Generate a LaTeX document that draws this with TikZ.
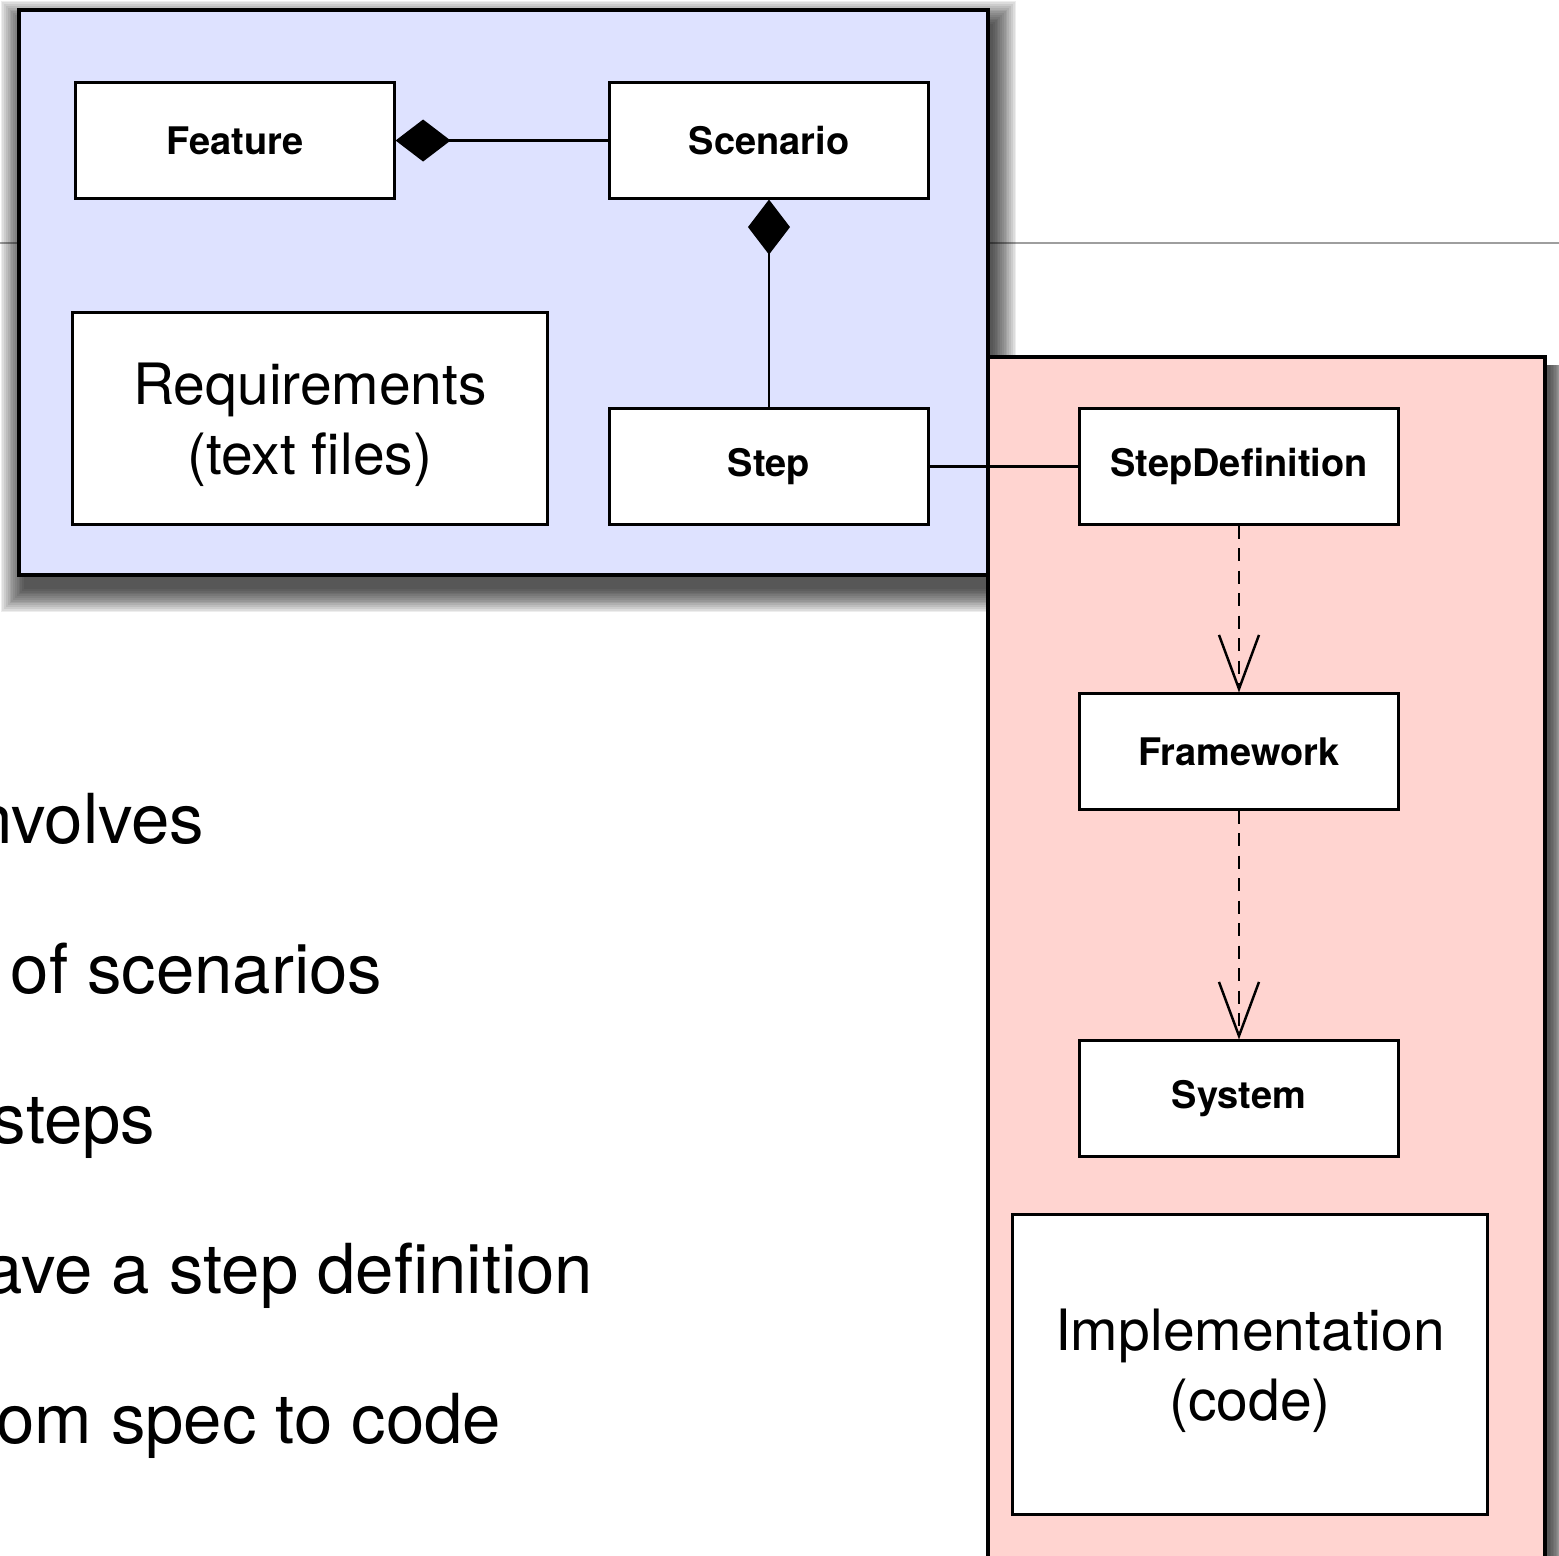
\documentclass[tikz,border=0pt]{standalone}
\usepackage{fontspec}
\setmainfont{TeX Gyre Heros}
\usetikzlibrary{arrows.meta}
\definecolor{specblue}{RGB}{222,226,255}
\definecolor{codepink}{RGB}{255,212,208}
\definecolor{rulegray}{RGB}{158,158,158}
\begin{document}
\begin{tikzpicture}[x=0.01cm,y=-0.01cm,
  panel/.style={line width=1.1pt, draw=black},
  cls/.style={draw=black, fill=white, line width=0.85pt, inner sep=0pt,
    minimum width=3.18cm, minimum height=1.15cm,
    font=\fontsize{10.8}{13}\selectfont\bfseries},
  bigbox/.style={draw=black, fill=white, line width=0.85pt, inner sep=0pt,
    minimum width=4.74cm, align=center,
    font=\fontsize{16.2}{19.9}\selectfont},
  conn/.style={draw=black, line width=0.7pt, line join=miter},
  dep/.style={conn, dash pattern=on 3.8pt off 2.6pt,
    -{Straight Barb[length=0.54cm,width=0.40cm,line width=0.7pt]}},
  comp/.style={conn, {Diamond[length=0.55cm,width=0.42cm]}-},
  bullet/.style={anchor=base east, inner sep=0pt, text=black,
    font=\fontsize{19.6}{23}\selectfont},
  softshade/.style={black, opacity=0.07}]
\useasboundingbox (0,0) rectangle (1559,1556);
\clip (0,0) rectangle (1559,1556);
\fill[white] (0,0) rectangle (1559,1556);

% header rule of the slide
\draw[rulegray, line width=0.6pt] (0,243) -- (1559,243);

% bullet text running under the panels
\node[bullet] (b1) at (205,843) {nvolves};
\node[bullet] (b2) at (383,993) {of scenarios};
\node[bullet] (b3) at (156,1143) {steps};
\node[bullet] (b4) at (594,1293) {ave a step definition};
\node[bullet] (b5) at (502,1443) {om spec to code};

% soft drop shadows: stacked translucent rectangles
\foreach \k in {0,...,13}{
  \fill[softshade] (24-\k*1.8, 24-\k*1.8) rectangle (993+\k*1.8, 589+\k*1.8);
}
\foreach \k in {0,...,13}{
  \fill[softshade] (1000, 365) rectangle (1550+\k*1.4, 1640);
}

% implementation panel
\path[fill=codepink, panel] (988,357) rectangle (1545,1620);
% specification panel
\path[fill=specblue, panel] (19,10) rectangle (988,575);

% classes
\node[cls] (feature) at (235,140.5) {Feature};
\node[cls] (scenario) at (769,140.5) {Scenario};
\node[cls] (step) at (769,466.5) {Step};
\node[bigbox, minimum height=2.11cm] (req) at (310,418.5)
  {\rule{0pt}{15.4pt}Requirements\\(text files)};
\node[cls] (stepdef) at (1239,466.5) {StepDefinition};
\node[cls] (framework) at (1239,751.5) {Framework};
\node[cls] (system) at (1239,1098.5) {System};
\node[bigbox, minimum height=2.99cm] (impl) at (1250,1364.5)
  {\rule{0pt}{15.4pt}Implementation\\(code)};

% relations
\draw[comp] (feature.east) -- (scenario.west);
\draw[comp] (scenario.south) -- (step.north);
\draw[conn] (step.east) -- (stepdef.west);
\draw[dep] (stepdef.south) -- (framework.north);
\draw[dep] (framework.south) -- (system.north);
\end{tikzpicture}
\end{document}
